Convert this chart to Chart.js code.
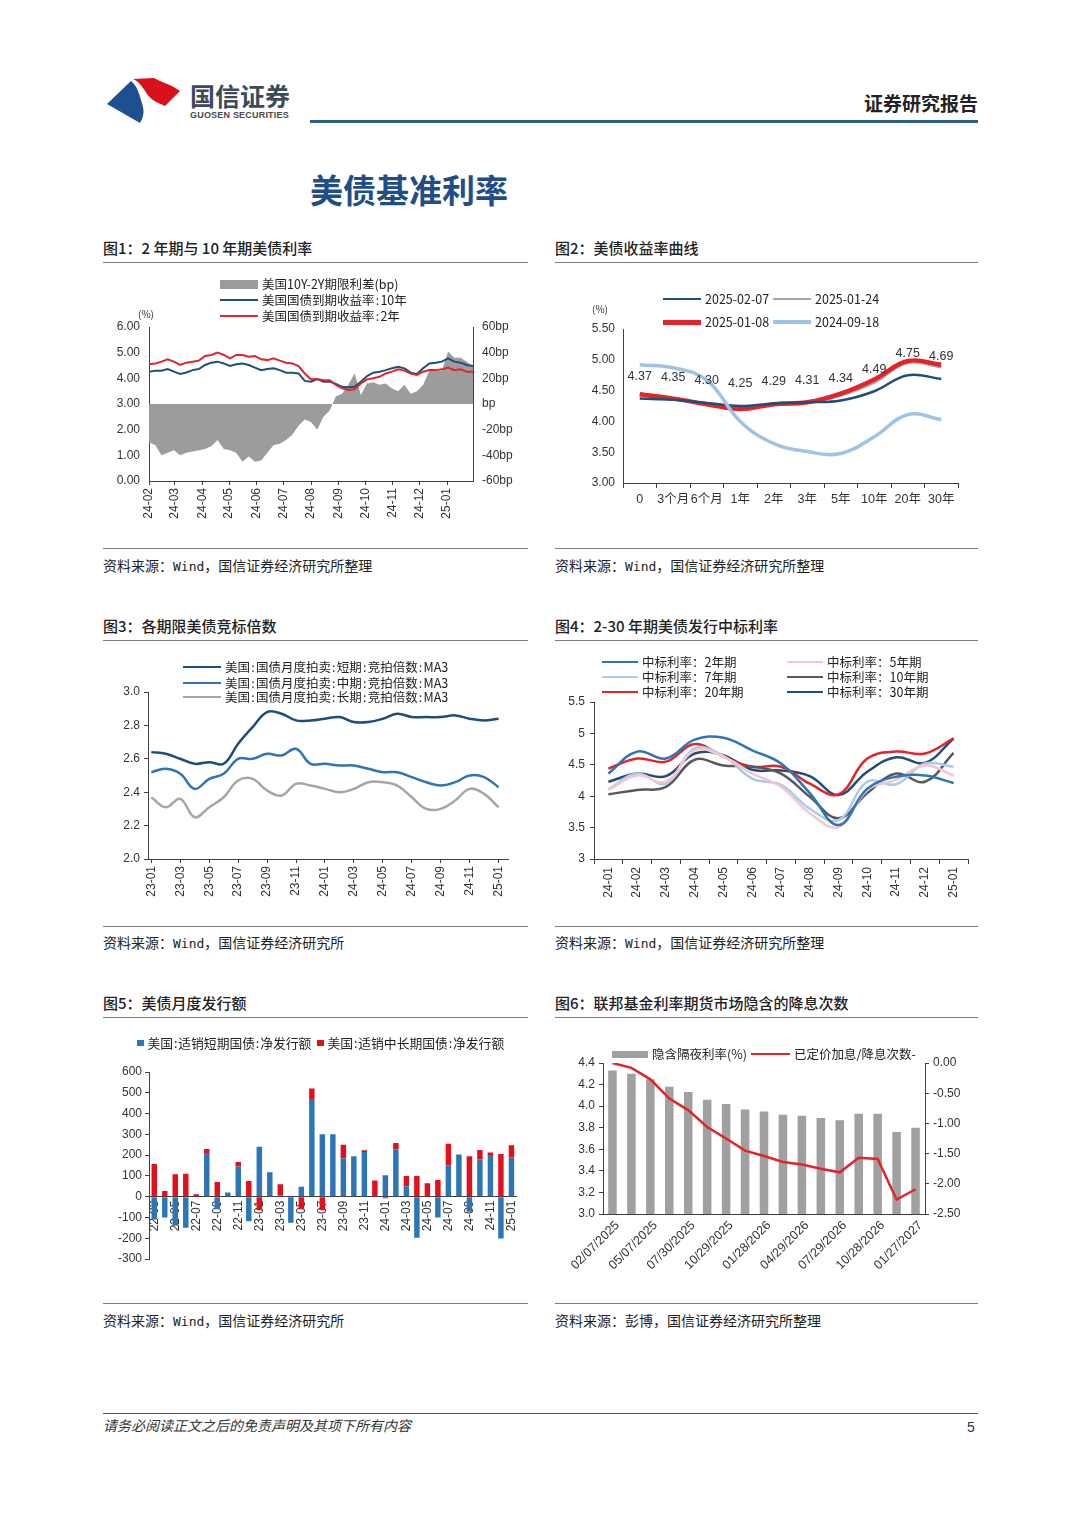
<!DOCTYPE html>
<html lang="zh-CN">
<head>
<meta charset="utf-8">
<title>美债基准利率</title>
<script src="https://cdn.jsdelivr.net/npm/chart.js@4.4.1/dist/chart.umd.min.js"></script>
<style>
html, body { margin: 0; padding: 0; background: #fff; }
#page { position: relative; width: 1080px; height: 1527px; overflow: hidden; font-family: "Noto Sans CJK SC", "Liberation Sans", sans-serif; color: #222; }
.t { position: absolute; white-space: nowrap; line-height: 1; }
.ttl { position: absolute; white-space: nowrap; line-height: 1; font-size: 15px; font-weight: 500; color: #222; }
.src { position: absolute; white-space: nowrap; line-height: 1; font-size: 14px; color: #222; }
.src b { font-weight: normal; font-family: "DejaVu Sans Mono", monospace; font-size: 13px; }
.hr { position: absolute; height: 1px; background: #7f7f7f; }
.cv { position: absolute; }
.lg { position: absolute; display: flex; align-items: center; height: 14px; font-size: 12.5px; line-height: 14px; white-space: nowrap; color: #222; }
.lg i { display: inline-block; margin-right: 4px; }
.lg s { text-decoration: none; padding: 0 1.2px; }
.lg.big { font-size: 12.8px; }
.lg.big s { padding: 0 0.8px; }
</style>
</head>
<body>
<div id="page">

  <svg style="position:absolute;left:0;top:0" width="200" height="130">
    <path d="M107,104 L131,81 C137,86 139,93 141,100 C143,107 146,113 140,123 Z" fill="#1e4f91"/>
    <path d="M133,79 L154,78 L160,81 L172,86 L180,91 L165,106 C158,103 151,100 147,94 C143,88 140,82 133,79 Z" fill="#d7121d"/>
  </svg>
  <div class="t" style="left:190px;top:83px;font-size:25px;font-weight:bold;color:#3d4b59">国信证券</div>
  <div class="t" style="left:190px;top:111px;font-size:9px;font-weight:bold;color:#4a4a4a;font-family:'Liberation Sans';letter-spacing:0.2px">GUOSEN SECURITIES</div>
  <div class="t" style="left:864px;top:93px;font-size:19px;font-weight:bold;color:#222">证券研究报告</div>
  <div style="position:absolute;left:310px;top:120px;width:668px;height:3px;background:#2f5e93"></div>

  <div class="t" style="left:310px;top:173px;font-size:33px;font-weight:bold;color:#1f4e86">美债基准利率</div>

  <!-- titles and rules -->
  <div class="ttl" style="left:103px;top:240px">图1：2 年期与 10 年期美债利率</div>
  <div class="ttl" style="left:555px;top:240px">图2：美债收益率曲线</div>
  <div class="hr" style="left:103px;top:262px;width:425px"></div>
  <div class="hr" style="left:555px;top:262px;width:423px"></div>
  <div class="hr" style="left:103px;top:548px;width:425px"></div>
  <div class="hr" style="left:555px;top:548px;width:423px"></div>
  <div class="src" style="left:103px;top:558px">资料来源：<b>Wind</b>，国信证券经济研究所整理</div>
  <div class="src" style="left:555px;top:558px">资料来源：<b>Wind</b>，国信证券经济研究所整理</div>

  <div class="ttl" style="left:103px;top:618px">图3：各期限美债竞标倍数</div>
  <div class="ttl" style="left:555px;top:618px">图4：2-30 年期美债发行中标利率</div>
  <div class="hr" style="left:103px;top:640px;width:425px"></div>
  <div class="hr" style="left:555px;top:640px;width:423px"></div>
  <div class="hr" style="left:103px;top:926px;width:425px"></div>
  <div class="hr" style="left:555px;top:926px;width:423px"></div>
  <div class="src" style="left:103px;top:935px">资料来源：<b>Wind</b>，国信证券经济研究所</div>
  <div class="src" style="left:555px;top:935px">资料来源：<b>Wind</b>，国信证券经济研究所整理</div>

  <div class="ttl" style="left:103px;top:995px">图5：美债月度发行额</div>
  <div class="ttl" style="left:555px;top:995px">图6：联邦基金利率期货市场隐含的降息次数</div>
  <div class="hr" style="left:103px;top:1017px;width:425px"></div>
  <div class="hr" style="left:555px;top:1017px;width:423px"></div>
  <div class="hr" style="left:103px;top:1303px;width:425px"></div>
  <div class="hr" style="left:555px;top:1303px;width:423px"></div>
  <div class="src" style="left:103px;top:1313px">资料来源：<b>Wind</b>，国信证券经济研究所</div>
  <div class="src" style="left:555px;top:1313px">资料来源：彭博，国信证券经济研究所整理</div>

  <!-- charts -->
  <div class="cv" style="left:100px;top:270px"><canvas id="c1" width="430" height="270"></canvas></div>
  <div class="cv" style="left:555px;top:270px"><canvas id="c2" width="425" height="270"></canvas></div>
  <div class="cv" style="left:100px;top:645px"><canvas id="c3" width="430" height="265"></canvas></div>
  <div class="cv" style="left:555px;top:645px"><canvas id="c4" width="425" height="265"></canvas></div>
  <div class="cv" style="left:100px;top:1025px"><canvas id="c5" width="430" height="265"></canvas></div>
  <div class="cv" style="left:555px;top:1025px"><canvas id="c6" width="425" height="265"></canvas></div>

  <!-- legends -->
  <div class="lg" style="left:220px;top:277px"><i style="width:38px;height:9px;background:#9c9c9c"></i>美国10Y-2Y期限利差(bp)</div>
  <div class="lg" style="left:220px;top:293px"><i style="width:38px;height:2.5px;background:#1f4e79"></i>美国国债到期收益率<s>:</s>10年</div>
  <div class="lg" style="left:220px;top:309px"><i style="width:38px;height:2.5px;background:#e3242b"></i>美国国债到期收益率<s>:</s>2年</div>
  <div class="t" style="left:138px;top:309px;font-size:10px;color:#333">(%)</div>

  <div class="lg" style="left:663px;top:292px"><i style="width:38px;height:2.5px;background:#1f4e79"></i>2025-02-07</div>
  <div class="lg" style="left:773px;top:292px"><i style="width:38px;height:2.5px;background:#a6a6a6"></i>2025-01-24</div>
  <div class="lg" style="left:663px;top:315px"><i style="width:38px;height:5px;background:#e3242b"></i>2025-01-08</div>
  <div class="lg" style="left:773px;top:315px"><i style="width:38px;height:4px;background:#9dc3e6"></i>2024-09-18</div>
  <div class="t" style="left:592px;top:304px;font-size:10px;color:#333">(%)</div>

  <div class="lg" style="left:183px;top:660px"><i style="width:38px;height:2.5px;background:#1f4e79"></i>美国<s>:</s>国债月度拍卖<s>:</s>短期<s>:</s>竞拍倍数<s>:</s>MA3</div>
  <div class="lg" style="left:183px;top:676px"><i style="width:38px;height:2.5px;background:#2e75b6"></i>美国<s>:</s>国债月度拍卖<s>:</s>中期<s>:</s>竞拍倍数<s>:</s>MA3</div>
  <div class="lg" style="left:183px;top:690px"><i style="width:38px;height:2.5px;background:#a6a6a6"></i>美国<s>:</s>国债月度拍卖<s>:</s>长期<s>:</s>竞拍倍数<s>:</s>MA3</div>

  <div class="lg" style="left:602px;top:655px"><i style="width:36px;height:2.5px;background:#2e75b6"></i>中标利率：2年期</div>
  <div class="lg" style="left:787px;top:655px"><i style="width:36px;height:2.5px;background:#f6c6ce"></i>中标利率：5年期</div>
  <div class="lg" style="left:602px;top:670px"><i style="width:36px;height:2.5px;background:#a9cbea"></i>中标利率：7年期</div>
  <div class="lg" style="left:787px;top:670px"><i style="width:36px;height:2.5px;background:#595959"></i>中标利率：10年期</div>
  <div class="lg" style="left:602px;top:685px"><i style="width:36px;height:2.5px;background:#e3242b"></i>中标利率：20年期</div>
  <div class="lg" style="left:787px;top:685px"><i style="width:36px;height:2.5px;background:#1f4e79"></i>中标利率：30年期</div>

  <div class="lg big" style="left:137px;top:1036px"><i style="width:6.5px;height:6.5px;background:#2e75b6"></i>美国<s>:</s>适销短期国债<s>:</s>净发行额</div>
  <div class="lg big" style="left:317px;top:1036px"><i style="width:6.5px;height:6.5px;background:#e3101b"></i>美国<s>:</s>适销中长期国债<s>:</s>净发行额</div>

  <div class="lg" style="left:612px;top:1047px"><i style="width:36px;height:7px;background:#a0a0a0"></i>隐含隔夜利率(%)</div>
  <div class="lg" style="left:751px;top:1047px"><i style="width:39px;height:2.5px;background:#e3242b"></i>已定价加息/降息次数-</div>

  <!-- footer -->
  <div style="position:absolute;left:103px;top:1413px;width:875px;height:1px;background:#2f5e93"></div>
  <div class="t" style="left:103px;top:1418px;font-size:14px;font-style:italic;color:#333">请务必阅读正文之后的免责声明及其项下所有内容</div>
  <div class="t" style="left:967px;top:1420px;font-size:14px;color:#333;font-family:'Liberation Sans'">5</div>
</div>

<script>
// 图1：周度取值，自 2024-02-01 起
const c1Months = ['24-02', '24-03', '24-04', '24-05', '24-06', '24-07', '24-08', '24-09', '24-10', '24-11', '24-12', '25-01'];
const c1Y10 = [4.26, 4.30, 4.30, 4.36, 4.26, 4.17, 4.23, 4.32, 4.36, 4.52, 4.61, 4.65, 4.58, 4.48, 4.55, 4.58, 4.52, 4.42,
  4.32, 4.36, 4.39, 4.32, 4.22, 4.22, 4.19, 3.90, 3.87, 3.97, 3.87, 3.87, 3.78, 3.67, 3.65, 3.67, 3.87, 4.09, 4.22, 4.26,
  4.32, 4.39, 4.45, 4.39, 4.22, 4.17, 4.39, 4.58, 4.61, 4.65, 4.78, 4.65, 4.61, 4.52, 4.48];
const c1Y2 = [4.55, 4.58, 4.65, 4.74, 4.65, 4.52, 4.61, 4.65, 4.69, 4.87, 4.91, 5.00, 4.91, 4.78, 4.91, 4.91, 4.84, 4.87,
  4.74, 4.71, 4.78, 4.69, 4.61, 4.58, 4.48, 4.19, 3.96, 3.97, 3.93, 3.93, 3.74, 3.61, 3.55, 3.57, 3.80, 3.96, 4.00, 4.06,
  4.19, 4.26, 4.35, 4.30, 4.19, 4.13, 4.26, 4.32, 4.32, 4.35, 4.42, 4.32, 4.35, 4.26, 4.26];
const c1Spread = [-30, -32, -40, -38, -36, -40, -38, -37, -36, -35, -33, -28, -35, -36, -38, -45, -41, -45,
  -44, -38, -32, -31, -28, -24, -17, -12, -14, -20, -10, -5, 6, 8, 15, 24, 7, 16, 17, 15,
  16, 12, 10, 15, 8, 10, 15, 26, 26, 26, 41, 36, 36, 33, 29];

// 图2
const c2Tenors = ['0', '3个月', '6个月', '1年', '2年', '3年', '5年', '10年', '20年', '30年'];
const c2Feb07 = [4.37, 4.35, 4.30, 4.25, 4.29, 4.31, 4.34, 4.49, 4.75, 4.69];
const c2Jan24 = [4.43, 4.36, 4.29, 4.21, 4.27, 4.31, 4.42, 4.63, 4.95, 4.88];
const c2Jan08 = [4.44, 4.37, 4.28, 4.20, 4.28, 4.31, 4.45, 4.68, 4.98, 4.92];
const c2Sep18 = [4.92, 4.87, 4.67, 4.00, 3.64, 3.51, 3.48, 3.75, 4.11, 4.03];

// 图3：月度，2023-01 至 2025-01
const c3Ticks = ['23-01', '23-03', '23-05', '23-07', '23-09', '23-11', '24-01', '24-03', '24-05', '24-07', '24-09', '24-11', '25-01'];
const c3Short = [2.64, 2.63, 2.60, 2.57, 2.58, 2.57, 2.69, 2.79, 2.88, 2.87, 2.83, 2.83, 2.84, 2.85, 2.82, 2.82, 2.84, 2.87, 2.85, 2.85, 2.85, 2.86, 2.84, 2.83, 2.84];
const c3Mid = [2.52, 2.54, 2.51, 2.42, 2.48, 2.51, 2.60, 2.60, 2.63, 2.62, 2.66, 2.57, 2.57, 2.56, 2.56, 2.54, 2.52, 2.52, 2.49, 2.46, 2.44, 2.46, 2.50, 2.49, 2.43];
const c3Long = [2.37, 2.31, 2.36, 2.25, 2.31, 2.37, 2.47, 2.48, 2.41, 2.38, 2.45, 2.44, 2.42, 2.40, 2.42, 2.46, 2.46, 2.44, 2.37, 2.30, 2.30, 2.35, 2.42, 2.39, 2.31];

// 图4
const c4Months = ['24-01', '24-02', '24-03', '24-04', '24-05', '24-06', '24-07', '24-08', '24-09', '24-10', '24-11', '24-12', '25-01'];
const c4Y2 = [4.36, 4.71, 4.60, 4.90, 4.93, 4.73, 4.52, 4.05, 3.54, 4.12, 4.31, 4.33, 4.21];
const c4Y5 = [4.10, 4.33, 4.23, 4.73, 4.63, 4.36, 4.15, 3.73, 3.51, 4.10, 4.26, 4.49, 4.33];
const c4Y7 = [4.11, 4.36, 4.20, 4.76, 4.64, 4.28, 4.18, 3.80, 3.62, 4.23, 4.19, 4.52, 4.47];
const c4Y10 = [4.03, 4.10, 4.15, 4.58, 4.49, 4.47, 4.36, 3.99, 3.65, 4.05, 4.36, 4.23, 4.69];
const c4Y20 = [4.44, 4.60, 4.55, 4.83, 4.63, 4.47, 4.47, 4.20, 4.03, 4.60, 4.71, 4.68, 4.92];
const c4Y30 = [4.23, 4.36, 4.32, 4.68, 4.65, 4.42, 4.41, 4.32, 4.02, 4.39, 4.62, 4.53, 4.92];

// 图5：十亿美元
const c5Months = ['22-03', '22-04', '22-05', '22-06', '22-07', '22-08', '22-09', '22-10', '22-11', '22-12',
  '23-01', '23-02', '23-03', '23-04', '23-05', '23-06', '23-07', '23-08', '23-09', '23-10', '23-11', '23-12',
  '24-01', '24-02', '24-03', '24-04', '24-05', '24-06', '24-07', '24-08', '24-09', '24-10', '24-11', '24-12', '25-01'];
const c5Short = [-110, -100, -140, -150, 0, 210, -60, 20, 145, -118, 240, 118, 5, -125, 48, 470, 300, 300, 185, 195, 215, 0,
  103, 228, 50, -198, 0, -100, 150, 203, -72, 180, 200, -201, 190];
const c5Long = [157, 27, 108, 110, 12, 20, 70, 0, 22, 75, -65, 0, 55, 0, -60, 50, -65, 0, 65, 0, 8, 78,
  -8, 30, 50, 100, 65, 80, 105, 0, 195, 45, 12, 205, 58];

// 图6
const c6Dates = ['02/07/2025', '03/19/2025', '05/07/2025', '06/18/2025', '07/30/2025', '09/17/2025', '10/29/2025', '12/10/2025',
  '01/28/2026', '03/18/2026', '04/29/2026', '06/17/2026', '07/29/2026', '09/16/2026', '10/28/2026', '12/09/2026', '01/27/2027'];
const c6Rate = [4.33, 4.30, 4.25, 4.18, 4.13, 4.06, 4.02, 3.97, 3.95, 3.92, 3.91, 3.89, 3.87, 3.93, 3.93, 3.76, 3.80];
const c6Cuts = [0.00, -0.08, -0.27, -0.59, -0.78, -1.06, -1.25, -1.45, -1.54, -1.64, -1.68, -1.75, -1.81, -1.57, -1.59, -2.26, -2.09];

Chart.defaults.font.family = '"Liberation Sans", "Noto Sans CJK SC", sans-serif';
Chart.defaults.font.size = 12;
Chart.defaults.color = '#333';
Chart.defaults.animation = false;
Chart.defaults.responsive = false;
Chart.defaults.plugins.legend.display = false;
Chart.defaults.plugins.tooltip.enabled = false;
Chart.defaults.elements.point.radius = 0;

const AX = '#404040';
// 固定坐标轴尺寸，让绘图区落在指定位置
const fitW = w => s => { s.width = w; s.paddingLeft = s.paddingRight = s.paddingTop = s.paddingBottom = 0; };
const fitH = h => s => { s.height = h; s.paddingLeft = s.paddingRight = s.paddingTop = s.paddingBottom = 0; };
const noGrid = { display: false, drawTicks: false };
const tickGrid = (len, offset) => ({ display: true, drawOnChartArea: false, drawTicks: true, tickLength: len, color: AX, offset: !!offset });
const border = { display: true, color: AX, width: 1 };

// ---- 图1 ----
const c1Day = m => (Date.UTC(2000 + Number(m.slice(0, 2)), Number(m.slice(3)) - 1, 1) - Date.UTC(2024, 1, 1)) / 864e5;
const weekly = arr => arr.map((v, i) => ({ x: i * 7, y: v }));

new Chart(document.getElementById('c1'), {
  type: 'line',
  data: {
    datasets: [
      { label: '美国国债到期收益率:2年', data: weekly(c1Y2), yAxisID: 'y', borderColor: '#e3242b', borderWidth: 2, order: 0 },
      { label: '美国国债到期收益率:10年', data: weekly(c1Y10), yAxisID: 'y', borderColor: '#1f4e79', borderWidth: 2, order: 1 },
      { label: '美国10Y-2Y期限利差(bp)', data: weekly(c1Spread), yAxisID: 'y1', borderWidth: 0, borderColor: 'rgba(0,0,0,0)',
        backgroundColor: '#9c9c9c', fill: 'origin', order: 2 }
    ]
  },
  options: {
    layout: { padding: { top: 57, left: 0, right: 0, bottom: 0 } },
    scales: {
      x: {
        type: 'linear', min: 0, max: 364,
        afterBuildTicks: s => { s.ticks = c1Months.map(m => ({ value: c1Day(m) })); },
        afterFit: fitH(59),
        grid: tickGrid(4), border,
        ticks: { autoSkip: false, minRotation: 90, maxRotation: 90, padding: 3, callback: (v, i) => c1Months[i] }
      },
      y: {
        position: 'left', min: 0, max: 6,
        afterFit: fitW(49), grid: noGrid, border,
        ticks: { stepSize: 1, padding: 9, callback: v => v.toFixed(2) }
      },
      y1: {
        position: 'right', min: -60, max: 60,
        afterFit: fitW(57), grid: noGrid, border,
        ticks: { stepSize: 20, padding: 9, callback: v => (v === 0 ? 'bp' : v + 'bp') }
      }
    }
  }
});

// ---- 图2 ----
const c2Labels = {
  id: 'c2Labels',
  afterDatasetsDraw(chart) {
    const meta = chart.getDatasetMeta(0);
    const ctx = chart.ctx;
    ctx.save();
    ctx.font = '12.5px "Liberation Sans"';
    ctx.fillStyle = '#333';
    ctx.textAlign = 'center';
    ctx.textBaseline = 'middle';
    meta.data.forEach((p, i) => ctx.fillText(c2Feb07[i].toFixed(2), p.x, p.y - 22));
    ctx.restore();
  }
};

new Chart(document.getElementById('c2'), {
  type: 'line',
  data: {
    labels: c2Tenors,
    datasets: [
      { label: '2025-02-07', data: c2Feb07, borderColor: '#1f4e79', borderWidth: 2.5, tension: 0.4, order: 1 },
      { label: '2025-01-24', data: c2Jan24, borderColor: '#a6a6a6', borderWidth: 2.5, tension: 0.4, order: 3 },
      { label: '2025-01-08', data: c2Jan08, borderColor: '#e3242b', borderWidth: 4.5, tension: 0.4, order: 2 },
      { label: '2024-09-18', data: c2Sep18, borderColor: '#9dc3e6', borderWidth: 3.5, tension: 0.4, order: 0 }
    ]
  },
  options: {
    layout: { padding: { top: 59, left: 0, right: 22, bottom: 0 } },
    scales: {
      x: {
        offset: true, afterFit: fitH(57),
        grid: tickGrid(5, true), border,
        ticks: { autoSkip: false, maxRotation: 0, padding: 4, font: { size: 12.5 } }
      },
      y: {
        min: 3, max: 5.5, afterFit: fitW(68), grid: noGrid, border,
        ticks: { stepSize: 0.5, padding: 8, callback: v => v.toFixed(2) }
      }
    }
  },
  plugins: [c2Labels]
});

// ---- 图3 ----
const monthly = arr => arr.map((v, i) => ({ x: i, y: v }));
new Chart(document.getElementById('c3'), {
  type: 'line',
  data: {
    datasets: [
      { label: '美国:国债月度拍卖:短期:竞拍倍数:MA3', data: monthly(c3Short), borderColor: '#1f4e79', borderWidth: 2.5, tension: 0.4 },
      { label: '美国:国债月度拍卖:中期:竞拍倍数:MA3', data: monthly(c3Mid), borderColor: '#2e75b6', borderWidth: 2.5, tension: 0.4 },
      { label: '美国:国债月度拍卖:长期:竞拍倍数:MA3', data: monthly(c3Long), borderColor: '#a6a6a6', borderWidth: 2.5, tension: 0.4 }
    ]
  },
  options: {
    layout: { padding: { top: 47, left: 0, right: 22, bottom: 0 } },
    scales: {
      x: {
        type: 'linear', min: -0.23, max: 24.65,
        afterBuildTicks: s => { s.ticks = c3Ticks.map((m, i) => ({ value: i * 2 })); },
        afterFit: fitH(51), grid: tickGrid(4), border,
        ticks: { autoSkip: false, minRotation: 90, maxRotation: 90, padding: 3, callback: (v, i) => c3Ticks[i] }
      },
      y: {
        min: 2, max: 3, afterFit: fitW(48), grid: tickGrid(4), border,
        ticks: { stepSize: 0.2, padding: 4, callback: v => v.toFixed(1) }
      }
    }
  }
});

// ---- 图4 ----
new Chart(document.getElementById('c4'), {
  type: 'line',
  data: {
    labels: c4Months,
    datasets: [
      { label: '中标利率：2年期', data: c4Y2, borderColor: '#2e75b6', borderWidth: 2.5, tension: 0.4 },
      { label: '中标利率：5年期', data: c4Y5, borderColor: '#f6c6ce', borderWidth: 2.5, tension: 0.4 },
      { label: '中标利率：7年期', data: c4Y7, borderColor: '#a9cbea', borderWidth: 2.5, tension: 0.4 },
      { label: '中标利率：10年期', data: c4Y10, borderColor: '#595959', borderWidth: 2.5, tension: 0.4 },
      { label: '中标利率：20年期', data: c4Y20, borderColor: '#e3242b', borderWidth: 2.5, tension: 0.4 },
      { label: '中标利率：30年期', data: c4Y30, borderColor: '#1f4e79', borderWidth: 2.5, tension: 0.4 }
    ]
  },
  options: {
    layout: { padding: { top: 57, left: 0, right: 12, bottom: 0 } },
    scales: {
      x: {
        offset: true, afterFit: fitH(51), grid: tickGrid(5, true), border,
        ticks: { autoSkip: false, minRotation: 90, maxRotation: 90, padding: 3 }
      },
      y: {
        min: 3, max: 5.5, afterFit: fitW(39), grid: tickGrid(4), border,
        ticks: { stepSize: 0.5, padding: 5, callback: v => String(v) }
      }
    }
  }
});

// ---- 图5 ----
new Chart(document.getElementById('c5'), {
  type: 'bar',
  data: {
    labels: c5Months,
    datasets: [
      { label: '美国:适销短期国债:净发行额', data: c5Short, backgroundColor: '#2e75b6', barPercentage: 0.52, categoryPercentage: 1 },
      { label: '美国:适销中长期国债:净发行额', data: c5Long, backgroundColor: '#e3101b', barPercentage: 0.52, categoryPercentage: 1 }
    ]
  },
  options: {
    layout: { padding: { top: 47, left: 0, right: 12, bottom: 31 } },
    scales: {
      x: {
        stacked: true, offset: true, position: { y: 0 },
        grid: noGrid, border,
        ticks: { autoSkip: false, minRotation: 90, maxRotation: 90, padding: 4, callback: (v, i) => (i % 2 === 0 ? c5Months[i] : '') }
      },
      y: {
        stacked: true, min: -300, max: 600, afterFit: fitW(49), grid: tickGrid(4), border,
        ticks: { stepSize: 100, padding: 3 }
      }
    }
  }
});

// ---- 图6 ----
new Chart(document.getElementById('c6'), {
  type: 'bar',
  data: {
    labels: c6Dates,
    datasets: [
      { type: 'line', label: '已定价加息/降息次数-', data: c6Cuts, yAxisID: 'y1', borderColor: '#e3242b', borderWidth: 2.5, order: 0 },
      { type: 'bar', label: '隐含隔夜利率(%)', data: c6Rate, yAxisID: 'y', backgroundColor: '#a0a0a0', barPercentage: 0.45, categoryPercentage: 1, order: 1 }
    ]
  },
  options: {
    layout: { padding: { top: 38, left: 0, right: 0, bottom: 0 } },
    scales: {
      x: {
        offset: true, afterFit: fitH(76), grid: noGrid, border,
        ticks: { autoSkip: false, minRotation: 45, maxRotation: 45, padding: 4, labelOffset: 5, font: { size: 12.5 },
          callback: (v, i) => (i % 2 === 0 ? c6Dates[i] : '') }
      },
      y: {
        position: 'left', min: 3, max: 4.4, afterFit: fitW(48), grid: tickGrid(4), border,
        ticks: { stepSize: 0.2, padding: 4, callback: v => v.toFixed(1) }
      },
      y1: {
        position: 'right', min: -2.5, max: 0, afterFit: fitW(55), grid: tickGrid(4), border,
        ticks: { stepSize: 0.5, padding: 4, callback: v => v.toFixed(2) }
      }
    }
  }
});
</script>
</body>
</html>
